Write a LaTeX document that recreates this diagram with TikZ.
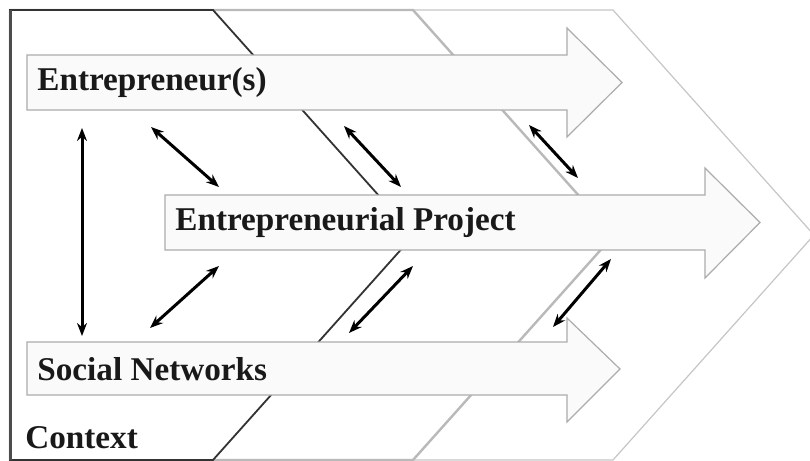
\documentclass[tikz,border=0pt]{standalone}
\usepackage{fontspec}
\setmainfont{Liberation Serif}
\usetikzlibrary{arrows.meta}
\begin{document}
\begin{tikzpicture}[x=0.5pt,y=-0.5pt,
  chevback/.style={fill=white,draw=gray!45,line width=0.6pt},
  chevmid/.style={fill=white,draw=gray!55,line width=1.2pt},
  chevfront/.style={fill=white,draw=black!80,line width=0.9pt},
  blockarrow/.style={fill=gray!4,draw=gray!65,line width=0.6pt},
  label/.style={anchor=west,inner sep=0pt,font=\fontsize{16.6}{18}\selectfont\bfseries,text=black!90},
  link/.style={{Stealth[length=6.5pt,width=5pt]}-{Stealth[length=6.5pt,width=5pt]},line width=1.5pt,black}]
\useasboundingbox (0,0) rectangle (810,461);
\begin{scope}
\clip (0,0) rectangle (810,461);
% chevrons
\draw[chevback] (10,10) -- (613,10) -- (814,235) -- (613,460) -- (10,460) -- cycle;
\draw[chevmid] (10,10) -- (413,10) -- (614,235) -- (413,460) -- (10,460) -- cycle;
\draw[chevfront] (10,10) -- (213,10) -- (414,235) -- (213,460) -- (10,460) -- cycle;
\draw[gray!60!black,line width=1.5pt] (10,10) -- (10,460);
\end{scope}
% block arrows
\draw[blockarrow] (27,55) -- (567,55) -- (567,28) -- (622,82.5) -- (567,137) -- (567,110) -- (27,110) -- cycle;
\draw[blockarrow] (165,195) -- (705,195) -- (705,168) -- (760,222.5) -- (705,278) -- (705,250) -- (165,250) -- cycle;
\draw[blockarrow] (27,342) -- (567,342) -- (567,318) -- (620,369) -- (567,422) -- (567,395) -- (27,395) -- cycle;
% labels
\node[label] (ent) at (37,83) {Entrepreneur(s)};
\node[label] (proj) at (175,223) {Entrepreneurial Project};
\node[label] (soc) at (37,369) {Social Networks};
\node[label] (ctx) at (25,438) {Context};
% link end points
\coordinate (v1) at (82,128);
\coordinate (v2) at (82,336);
\coordinate (a1) at (151,127);
\coordinate (a2) at (219,187);
\coordinate (b1) at (344,126);
\coordinate (b2) at (401,187);
\coordinate (c1) at (529,125);
\coordinate (c2) at (578,178);
\coordinate (d1) at (219,266);
\coordinate (d2) at (150,328);
\coordinate (e1) at (413,266);
\coordinate (e2) at (349,333);
\coordinate (f1) at (611,259);
\coordinate (f2) at (553,327);
\draw[link] (v1) -- (v2);
\draw[link] (a1) -- (a2);
\draw[link] (b1) -- (b2);
\draw[link] (c1) -- (c2);
\draw[link] (d1) -- (d2);
\draw[link] (e1) -- (e2);
\draw[link] (f1) -- (f2);
\end{tikzpicture}
\end{document}
